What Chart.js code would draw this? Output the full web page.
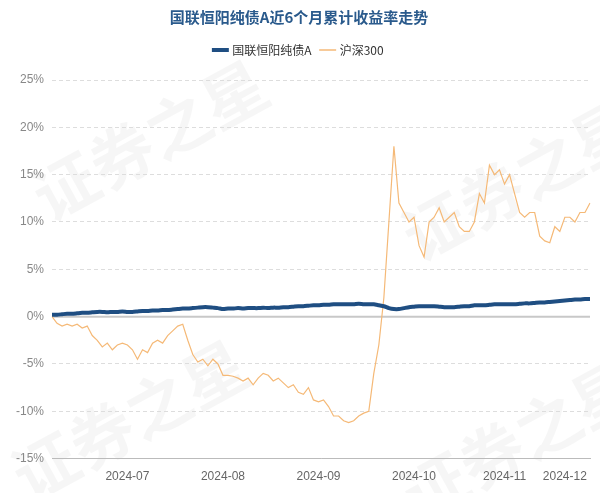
<!DOCTYPE html>
<html><head><meta charset="utf-8">
<script src="https://cdn.jsdelivr.net/npm/chart.js@4"></script>
<style>html,body{margin:0;padding:0;background:#fff}#w{width:600px;height:493px}</style>
</head><body><div id="w"><canvas id="c"></canvas></div>
<script>
const fundName = '国联恒阳纯债A';
const indexName = '沪深300';
const hs300 = [0,-0.7,-1,-0.8,-1,-0.8,-1.2,-1,-2,-2.5,
-3.2,-2.8,-3.5,-3,-2.8,-3,-3.5,-4.5,-3.5,-3.8,
-2.8,-2.5,-2.8,-2,-1.5,-1,-0.8,-2.5,-4,-4.8,
-4.5,-5.2,-4.5,-5,-6.2,-6.2,-6.3,-6.5,-6.8,-6.5,
-7.2,-6.5,-6,-6.2,-6.8,-6.5,-7,-7.5,-7.2,-8,
-8.2,-7.5,-8.8,-9,-8.8,-9.5,-10.5,-10.5,-11,-11.2,
-11,-10.5,-10.2,-10,-6,-3,2,10,18,12,
11,10,10.5,7.5,6.3,10,10.5,11.5,10,10.5,
11,9.5,9,9,10,13,12,16,15,15.5,
14,15,13,11,10.5,11,11,8.5,8,7.8,
9.5,9,10.5,10.5,10,11,11,12];
const fund = [0.2,0.2,0.25,0.3,0.3,0.35,0.4,0.4,0.45,0.5,
0.5,0.45,0.5,0.5,0.55,0.5,0.5,0.55,0.6,0.6,
0.65,0.65,0.7,0.7,0.75,0.8,0.85,0.85,0.9,0.95,
1.0,1.0,0.95,0.9,0.8,0.85,0.85,0.9,0.85,0.9,
0.9,0.9,0.95,0.9,0.95,0.95,1.0,1.0,1.05,1.1,
1.1,1.15,1.2,1.2,1.25,1.25,1.3,1.3,1.3,1.3,
1.3,1.35,1.3,1.3,1.3,1.2,1.1,0.9,0.8,0.8,
0.9,1.0,1.05,1.1,1.1,1.1,1.1,1.05,1.0,1.0,
1.0,1.05,1.1,1.1,1.2,1.2,1.2,1.25,1.3,1.3,
1.3,1.3,1.3,1.35,1.4,1.4,1.45,1.5,1.5,1.55,
1.6,1.65,1.7,1.75,1.8,1.8,1.85,1.85];
const monthLabels = ['2024-07','2024-08','2024-09','2024-10','2024-11','2024-12'];
const monthIdx = [15,34,53,72,90,102];
const labels = hs300.map((_, i) => String(i));

const watermark = {id:'wm', beforeDraw(ch){const c=ch.ctx;c.save();c.fillStyle='rgba(0,0,0,0.035)';c.font='bold 64px "Noto Sans CJK SC"';
[[150,140],[520,180],[130,420],[520,440]].forEach(p=>{c.save();c.translate(p[0],p[1]);c.rotate(-0.5);c.textAlign='center';c.fillText('证券之星',0,0);c.restore();});c.restore();}};
const zeroLine = {id:'zero', beforeDatasetsDraw(ch){const c=ch.ctx,y=ch.scales.y.getPixelForValue(0),a=ch.chartArea;c.save();c.strokeStyle='#c8c8c8';c.lineWidth=2;c.beginPath();c.moveTo(a.left,y);c.lineTo(a.right,y);c.stroke();c.restore();}};

new Chart(document.getElementById('c'), {
  type:'line',
  data:{labels, datasets:[
    {label:fundName,data:fund,borderColor:'#1f4e82',borderWidth:4,pointRadius:0,tension:0.2,order:0},
    {label:indexName,data:hs300,borderColor:'#f5b977',borderWidth:1.2,pointRadius:0,tension:0,order:1}
  ]},
  options:{responsive:true,maintainAspectRatio:false,animation:false,
    layout:{padding:{left:8,right:10,bottom:6}},
    plugins:{
      title:{display:true,text:'国联恒阳纯债A近6个月累计收益率走势',color:'#2a5a8c',font:{size:15,weight:'bold',family:'"Noto Sans CJK SC"'},padding:{top:8,bottom:8}},
      legend:{labels:{usePointStyle:true,pointStyle:'line',boxWidth:40,color:'#333',padding:10,font:{size:12,family:'"Noto Sans CJK SC"'},
        generateLabels(ch){return ch.data.datasets.map((d,i)=>({text:d.label,strokeStyle:d.borderColor,fillStyle:d.borderColor,lineWidth:i==0?4:1.5,pointStyle:'line',datasetIndex:i,fontColor:'#333'}));}}},
      tooltip:{enabled:false}
    },
    scales:{
      x:{grid:{display:false},border:{color:'#bbb'},
        afterBuildTicks(ax){ax.ticks=monthIdx.map(v=>({value:v}));},
        ticks:{autoSkip:false,maxRotation:0,color:'#666',font:{size:12},callback:(v)=>monthLabels[monthIdx.indexOf(v)]}},
      y:{min:-15,max:25,border:{display:false,dash:[4,3]},
        grid:{color:c=>c.tick.value===0?'rgba(0,0,0,0)':'#ddd',lineWidth:1,drawTicks:false},
        ticks:{stepSize:5,color:'#888',font:{size:12},padding:8,callback:v=>v+'%'}}
    }
  },
  plugins:[watermark,zeroLine,{id:'pad',beforeInit(ch){const f=ch.legend.fit;ch.legend.fit=function(){f.call(this);this.height+=14;};}}]
});
</script></body></html>
